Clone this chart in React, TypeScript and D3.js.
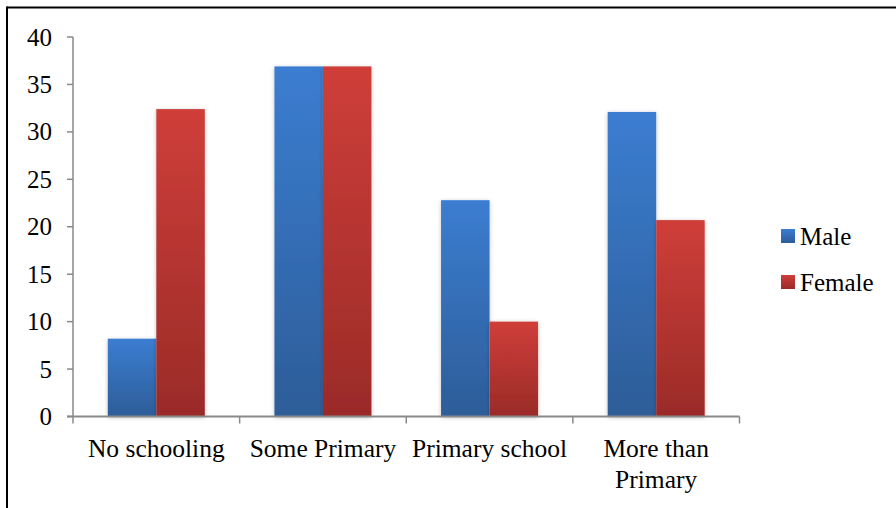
import React from "react";
import * as d3 from "d3";

const categories: string[][] = [["No schooling"], ["Some Primary"], ["Primary school"], ["More than", "Primary"]];
const maleValues = [8.2, 36.9, 22.8, 32.1];
const femaleValues = [32.4, 36.9, 10.0, 20.7];
const yTicks = [0, 5, 10, 15, 20, 25, 30, 35, 40];
const seriesNames = ["Male", "Female"];

const W = 896, H = 508;
const plot = { left: 73, right: 739.5, top: 37, bottom: 416.5 };
const FONT = "\"Liberation Serif\", \"Times New Roman\", Times, serif";
const tStyle: React.CSSProperties = { fontFamily: FONT };

export default function App() {
  const x = d3.scaleBand<number>().domain(d3.range(categories.length)).range([plot.left, plot.right]).paddingInner(0).paddingOuter(0);
  const y = d3.scaleLinear().domain([0, 40]).range([plot.bottom, plot.top]);
  const bw = 48.5;
  const series = [maleValues, femaleValues];
  const grads = ["gBlue", "gRed"];
  return (
    <svg width={W} height={H} style={{ position: "absolute", left: 0, top: 0, background: "#fff", fontFamily: FONT }}>
      <defs>
        <linearGradient id="gBlue" x1="0" y1="0" x2="0" y2="1">
          <stop offset="0" stopColor="#3B7DD1" />
          <stop offset="1" stopColor="#2D5D98" />
        </linearGradient>
        <linearGradient id="gRed" x1="0" y1="0" x2="0" y2="1">
          <stop offset="0" stopColor="#CF3E39" />
          <stop offset="1" stopColor="#9A2B28" />
        </linearGradient>
        <filter id="sh" x="-20%" y="-5%" width="140%" height="110%">
          <feGaussianBlur in="SourceAlpha" stdDeviation="2" />
          <feOffset dx="0" dy="1" />
          <feComponentTransfer><feFuncA type="linear" slope="0.25" /></feComponentTransfer>
          <feMerge><feMergeNode /><feMergeNode in="SourceGraphic" /></feMerge>
        </filter>
      </defs>
      <rect x={0} y={0} width={W} height={H} fill="#fff" />
      <line x1={7} y1={7.5} x2={W} y2={7.5} stroke="#000" strokeWidth={2} />
      <line x1={7} y1={6.5} x2={7} y2={H} stroke="#000" strokeWidth={2} />

      {series.map((vals, s) =>
        vals.map((v, i) => {
          const x0 = (x(i) as number) + (x.bandwidth() - 2 * bw) / 2 + s * bw;
          return (
            <rect key={`${s}-${i}`} x={x0} y={y(v)} width={bw} height={y(0) - y(v)} fill={`url(#${grads[s]})`} filter="url(#sh)" />
          );
        })
      )}

      {/* y axis */}
      <line x1={plot.left} y1={plot.top} x2={plot.left} y2={plot.bottom} stroke="#898989" strokeWidth={1.5} />
      {yTicks.map((t) => (
        <g key={t}>
          <line x1={plot.left - 6} x2={plot.left} y1={y(t)} y2={y(t)} stroke="#898989" strokeWidth={1.5} />
          <text x={52} y={y(t)} dy="0.34em" textAnchor="end" fontSize={25} fill="#000" style={tStyle}>{t}</text>
        </g>
      ))}
      {/* x axis */}
      <line x1={plot.left - 6} x2={plot.right} y1={plot.bottom} y2={plot.bottom} stroke="#898989" strokeWidth={2} />
      {d3.range(categories.length + 1).map((i) => {
        const xx = plot.left + i * x.bandwidth();
        return <line key={i} x1={xx} x2={xx} y1={plot.bottom} y2={plot.bottom + 7} stroke="#898989" strokeWidth={1.5} />;
      })}
      {categories.map((lines, i) => (
        <text key={i} x={(x(i) as number) + x.bandwidth() / 2} y={457} textAnchor="middle" fontSize={25.5} fill="#000" style={tStyle}>
          {lines.map((l, k) => (
            <tspan key={k} x={(x(i) as number) + x.bandwidth() / 2} dy={k === 0 ? 0 : 31}>{l}</tspan>
          ))}
        </text>
      ))}

      {/* legend */}
      {seriesNames.map((n, s) => (
        <g key={n} transform={`translate(781, ${229 + s * 46})`}>
          <rect x={0} y={0} width={14} height={14} fill={`url(#${grads[s]})`} />
          <text x={19} y={15.5} fontSize={25} fill="#000" style={tStyle}>{n}</text>
        </g>
      ))}
    </svg>
  );
}
